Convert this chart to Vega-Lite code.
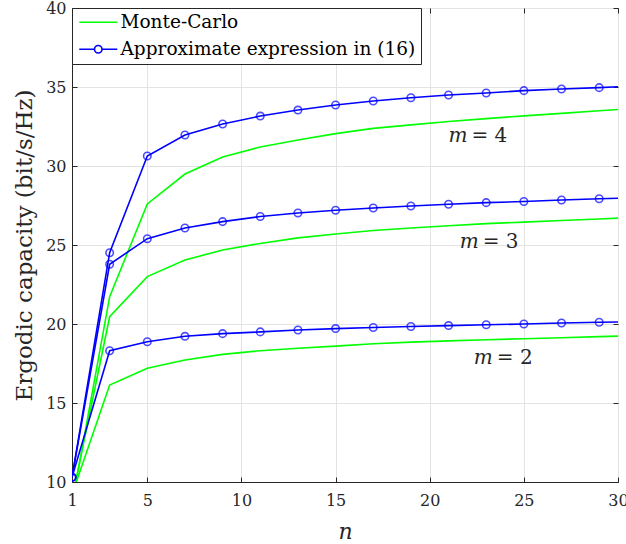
{
  "$schema": "https://vega.github.io/schema/vega-lite/v6.json",
  "width": 546,
  "height": 474,
  "autosize": "none",
  "padding": {"left": 72, "top": 8, "right": 8, "bottom": 62},
  "background": "white",
  "config": {
    "view": {"stroke": "#262626", "strokeWidth": 1},
    "font": "DejaVu Serif"
  },
  "resolve": {"axis": {"x": "independent", "y": "independent"}},
  "datasets": {
    "curves": [
      {"series": "Monte-Carlo", "m": 2, "n": 1, "c": 9.2},
      {"series": "Monte-Carlo", "m": 2, "n": 3, "c": 16.14},
      {"series": "Monte-Carlo", "m": 2, "n": 5, "c": 17.2},
      {"series": "Monte-Carlo", "m": 2, "n": 7, "c": 17.72},
      {"series": "Monte-Carlo", "m": 2, "n": 9, "c": 18.08},
      {"series": "Monte-Carlo", "m": 2, "n": 11, "c": 18.31},
      {"series": "Monte-Carlo", "m": 2, "n": 13, "c": 18.47},
      {"series": "Monte-Carlo", "m": 2, "n": 15, "c": 18.6},
      {"series": "Monte-Carlo", "m": 2, "n": 17, "c": 18.75},
      {"series": "Monte-Carlo", "m": 2, "n": 19, "c": 18.85},
      {"series": "Monte-Carlo", "m": 2, "n": 21, "c": 18.93},
      {"series": "Monte-Carlo", "m": 2, "n": 23, "c": 19.0},
      {"series": "Monte-Carlo", "m": 2, "n": 25, "c": 19.07},
      {"series": "Monte-Carlo", "m": 2, "n": 27, "c": 19.13},
      {"series": "Monte-Carlo", "m": 2, "n": 29, "c": 19.2},
      {"series": "Monte-Carlo", "m": 2, "n": 30, "c": 19.23},
      {"series": "Monte-Carlo", "m": 3, "n": 1, "c": 8.9},
      {"series": "Monte-Carlo", "m": 3, "n": 3, "c": 20.46},
      {"series": "Monte-Carlo", "m": 3, "n": 5, "c": 23.0},
      {"series": "Monte-Carlo", "m": 3, "n": 7, "c": 24.05},
      {"series": "Monte-Carlo", "m": 3, "n": 9, "c": 24.68},
      {"series": "Monte-Carlo", "m": 3, "n": 11, "c": 25.1},
      {"series": "Monte-Carlo", "m": 3, "n": 13, "c": 25.45},
      {"series": "Monte-Carlo", "m": 3, "n": 15, "c": 25.7},
      {"series": "Monte-Carlo", "m": 3, "n": 17, "c": 25.92},
      {"series": "Monte-Carlo", "m": 3, "n": 19, "c": 26.08},
      {"series": "Monte-Carlo", "m": 3, "n": 21, "c": 26.22},
      {"series": "Monte-Carlo", "m": 3, "n": 23, "c": 26.35},
      {"series": "Monte-Carlo", "m": 3, "n": 25, "c": 26.45},
      {"series": "Monte-Carlo", "m": 3, "n": 27, "c": 26.55},
      {"series": "Monte-Carlo", "m": 3, "n": 29, "c": 26.65},
      {"series": "Monte-Carlo", "m": 3, "n": 30, "c": 26.7},
      {"series": "Monte-Carlo", "m": 4, "n": 1, "c": 8.6},
      {"series": "Monte-Carlo", "m": 4, "n": 3, "c": 21.73},
      {"series": "Monte-Carlo", "m": 4, "n": 5, "c": 27.6},
      {"series": "Monte-Carlo", "m": 4, "n": 7, "c": 29.49},
      {"series": "Monte-Carlo", "m": 4, "n": 9, "c": 30.57},
      {"series": "Monte-Carlo", "m": 4, "n": 11, "c": 31.2},
      {"series": "Monte-Carlo", "m": 4, "n": 13, "c": 31.65},
      {"series": "Monte-Carlo", "m": 4, "n": 15, "c": 32.05},
      {"series": "Monte-Carlo", "m": 4, "n": 17, "c": 32.38},
      {"series": "Monte-Carlo", "m": 4, "n": 19, "c": 32.6},
      {"series": "Monte-Carlo", "m": 4, "n": 21, "c": 32.82},
      {"series": "Monte-Carlo", "m": 4, "n": 23, "c": 33.0},
      {"series": "Monte-Carlo", "m": 4, "n": 25, "c": 33.17},
      {"series": "Monte-Carlo", "m": 4, "n": 27, "c": 33.33},
      {"series": "Monte-Carlo", "m": 4, "n": 29, "c": 33.5},
      {"series": "Monte-Carlo", "m": 4, "n": 30, "c": 33.58},
      {"series": "Approximate expression in (16)", "m": 2, "n": 1, "c": 10.3},
      {"series": "Approximate expression in (16)", "m": 2, "n": 3, "c": 18.31},
      {"series": "Approximate expression in (16)", "m": 2, "n": 5, "c": 18.88},
      {"series": "Approximate expression in (16)", "m": 2, "n": 7, "c": 19.22},
      {"series": "Approximate expression in (16)", "m": 2, "n": 9, "c": 19.39},
      {"series": "Approximate expression in (16)", "m": 2, "n": 11, "c": 19.5},
      {"series": "Approximate expression in (16)", "m": 2, "n": 13, "c": 19.62},
      {"series": "Approximate expression in (16)", "m": 2, "n": 15, "c": 19.71},
      {"series": "Approximate expression in (16)", "m": 2, "n": 17, "c": 19.78},
      {"series": "Approximate expression in (16)", "m": 2, "n": 19, "c": 19.84},
      {"series": "Approximate expression in (16)", "m": 2, "n": 21, "c": 19.9},
      {"series": "Approximate expression in (16)", "m": 2, "n": 23, "c": 19.95},
      {"series": "Approximate expression in (16)", "m": 2, "n": 25, "c": 20.0},
      {"series": "Approximate expression in (16)", "m": 2, "n": 27, "c": 20.06},
      {"series": "Approximate expression in (16)", "m": 2, "n": 29, "c": 20.11},
      {"series": "Approximate expression in (16)", "m": 2, "n": 30, "c": 20.13},
      {"series": "Approximate expression in (16)", "m": 3, "n": 1, "c": 10.3},
      {"series": "Approximate expression in (16)", "m": 3, "n": 3, "c": 23.78},
      {"series": "Approximate expression in (16)", "m": 3, "n": 5, "c": 25.4},
      {"series": "Approximate expression in (16)", "m": 3, "n": 7, "c": 26.08},
      {"series": "Approximate expression in (16)", "m": 3, "n": 9, "c": 26.48},
      {"series": "Approximate expression in (16)", "m": 3, "n": 11, "c": 26.8},
      {"series": "Approximate expression in (16)", "m": 3, "n": 13, "c": 27.03},
      {"series": "Approximate expression in (16)", "m": 3, "n": 15, "c": 27.2},
      {"series": "Approximate expression in (16)", "m": 3, "n": 17, "c": 27.34},
      {"series": "Approximate expression in (16)", "m": 3, "n": 19, "c": 27.47},
      {"series": "Approximate expression in (16)", "m": 3, "n": 21, "c": 27.58},
      {"series": "Approximate expression in (16)", "m": 3, "n": 23, "c": 27.68},
      {"series": "Approximate expression in (16)", "m": 3, "n": 25, "c": 27.75},
      {"series": "Approximate expression in (16)", "m": 3, "n": 27, "c": 27.85},
      {"series": "Approximate expression in (16)", "m": 3, "n": 29, "c": 27.93},
      {"series": "Approximate expression in (16)", "m": 3, "n": 30, "c": 27.96},
      {"series": "Approximate expression in (16)", "m": 4, "n": 1, "c": 10.3},
      {"series": "Approximate expression in (16)", "m": 4, "n": 3, "c": 24.51},
      {"series": "Approximate expression in (16)", "m": 4, "n": 5, "c": 30.63},
      {"series": "Approximate expression in (16)", "m": 4, "n": 7, "c": 31.96},
      {"series": "Approximate expression in (16)", "m": 4, "n": 9, "c": 32.66},
      {"series": "Approximate expression in (16)", "m": 4, "n": 11, "c": 33.16},
      {"series": "Approximate expression in (16)", "m": 4, "n": 13, "c": 33.54},
      {"series": "Approximate expression in (16)", "m": 4, "n": 15, "c": 33.86},
      {"series": "Approximate expression in (16)", "m": 4, "n": 17, "c": 34.11},
      {"series": "Approximate expression in (16)", "m": 4, "n": 19, "c": 34.32},
      {"series": "Approximate expression in (16)", "m": 4, "n": 21, "c": 34.49},
      {"series": "Approximate expression in (16)", "m": 4, "n": 23, "c": 34.62},
      {"series": "Approximate expression in (16)", "m": 4, "n": 25, "c": 34.77},
      {"series": "Approximate expression in (16)", "m": 4, "n": 27, "c": 34.87},
      {"series": "Approximate expression in (16)", "m": 4, "n": 29, "c": 34.96},
      {"series": "Approximate expression in (16)", "m": 4, "n": 30, "c": 35.02}
    ],
    "labels": [
      {"m": 4, "lx": 22.85, "ly": 31.9, "eq": "= 4"},
      {"m": 3, "lx": 23.45, "ly": 25.2, "eq": "= 3"},
      {"m": 2, "lx": 24.2, "ly": 17.85, "eq": "= 2"}
    ]
  },
  "layer": [
    {
      "data": {"name": "curves"},
      "mark": {"type": "line", "clip": true, "strokeWidth": 1.6},
      "encoding": {
        "x": {
          "field": "n", "type": "quantitative",
          "scale": {"domain": [1, 30], "nice": false, "zero": false},
          "axis": {
            "values": [1, 5, 10, 15, 20, 25, 30],
            "title": "n",
            "titleFont": "DejaVu Serif", "titleFontStyle": "italic", "titleFontWeight": "normal",
            "titleFontSize": 22, "titleColor": "#262626", "titlePadding": 13,
            "labelFont": "DejaVu Serif", "labelFontSize": 16, "labelColor": "#262626",
            "labelPadding": 15, "tickSize": -5, "tickColor": "#262626",
            "domainColor": "#262626", "grid": true, "gridColor": "#e3e3e3",
            "labelFlush": false
          }
        },
        "y": {
          "field": "c", "type": "quantitative",
          "scale": {"domain": [10, 40], "nice": false, "zero": false},
          "axis": {
            "values": [10, 15, 20, 25, 30, 35, 40],
            "title": "Ergodic capacity (bit/s/Hz)",
            "titleFont": "DejaVu Serif", "titleFontWeight": "normal",
            "titleFontSize": 23, "titleColor": "#262626", "titlePadding": 9,
            "labelFont": "DejaVu Serif", "labelFontSize": 16, "labelColor": "#262626",
            "labelPadding": 11, "tickSize": -5, "tickColor": "#262626",
            "domainColor": "#262626", "grid": true, "gridColor": "#e3e3e3"
          }
        },
        "color": {
          "field": "series", "type": "nominal",
          "scale": {"domain": ["Monte-Carlo", "Approximate expression in (16)"], "range": ["#00ff00", "#0000ff"]},
          "legend": {
            "title": null,
            "orient": "top-left",
            "offset": 0,
            "padding": 5,
            "fillColor": "white",
            "strokeColor": "#262626",
            "labelFont": "DejaVu Serif",
            "labelFontSize": 18.5,
            "labelColor": "#000000",
            "labelLimit": 500,
            "labelOffset": 13,
            "symbolOffset": 12,
            "symbolSize": 100,
            "symbolStrokeWidth": 1.6,
            "rowPadding": 8,
            "encode": {
              "symbols": {
                "update": {
                  "shape": {"signal": "datum.value === 'Monte-Carlo' ? 'M-3.8,0H3.8' : 'M-3.8,0H-0.75M0.75,0H3.8M-0.75,0A0.75,0.75,0,1,1,0.75,0A0.75,0.75,0,1,1,-0.75,0'"},
                  "fill": {"value": "transparent"}
                }
              }
            }
          }
        },
        "detail": {"field": "m", "type": "nominal"}
      }
    },
    {
      "data": {"name": "curves"},
      "transform": [
        {"filter": "datum.series === 'Approximate expression in (16)' && datum.n < 30"}
      ],
      "mark": {"type": "point", "shape": "circle", "filled": false, "size": 56, "strokeWidth": 1.6, "color": "#0000ff", "clip": true},
      "encoding": {
        "x": {"field": "n", "type": "quantitative",
          "axis": {"orient": "top", "values": [1, 5, 10, 15, 20, 25, 30], "labels": false, "title": null, "grid": false, "domain": false, "tickSize": -5, "tickColor": "#262626"}},
        "y": {"field": "c", "type": "quantitative",
          "axis": {"orient": "right", "values": [10, 15, 20, 25, 30, 35, 40], "labels": false, "title": null, "grid": false, "domain": false, "tickSize": -5, "tickColor": "#262626"}}
      }
    },
    {
      "data": {"name": "labels"},
      "mark": {"type": "text", "text": "m", "fontStyle": "italic", "font": "DejaVu Serif", "fontSize": 20, "align": "right", "baseline": "middle", "dx": -16, "color": "#262626"},
      "encoding": {
        "x": {"field": "lx", "type": "quantitative", "axis": null},
        "y": {"field": "ly", "type": "quantitative", "axis": null}
      }
    },
    {
      "data": {"name": "labels"},
      "mark": {"type": "text", "font": "DejaVu Serif", "fontSize": 20, "align": "left", "baseline": "middle", "dx": -12, "color": "#262626"},
      "encoding": {
        "x": {"field": "lx", "type": "quantitative", "axis": null},
        "y": {"field": "ly", "type": "quantitative", "axis": null},
        "text": {"field": "eq", "type": "nominal"}
      }
    }
  ]
}
